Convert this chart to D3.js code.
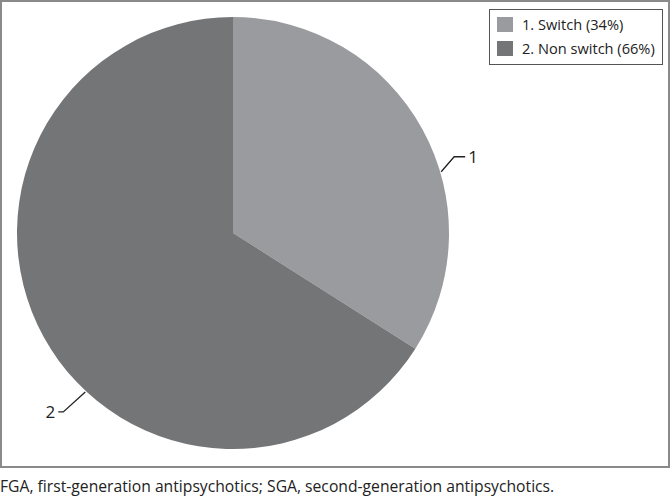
<!DOCTYPE html>
<html><head><meta charset="utf-8">
<script src="https://cdn.jsdelivr.net/npm/d3@7"></script>
<style>body{margin:0;background:#fff}svg{display:block}text{font-family:"Open Sans",sans-serif}</style>
</head><body>
<script>
const categories = ["1. Switch (34%)", "2. Non switch (66%)"];
const shortLabels = ["1", "2"];
const values = [34, 66];
const colors = ["#9a9b9e", "#747577"];
const caption = "FGA, first-generation antipsychotics; SGA, second-generation antipsychotics.";

const W = 670, H = 497;
const svg = d3.select("body").append("svg").attr("width", W).attr("height", H);

// frame
svg.append("rect").attr("x", 1).attr("y", 1).attr("width", 668).attr("height", 466)
  .attr("fill", "#fff").attr("stroke", "#8a8a8a").attr("stroke-width", 2);

const cx = 233, cy = 233, R = 216;
const pie = d3.pie().sort(null).value(d => d)(values);
const arc = d3.arc().innerRadius(0).outerRadius(R);
const g = svg.append("g").attr("transform", `translate(${cx},${cy})`);
g.selectAll("path").data(pie).enter().append("path")
  .attr("d", arc).attr("fill", (d, i) => colors[i]);

// leader lines (label anchor angle offset from slice centre)
const offsets = [12.4, -18.3];
pie.forEach((d, i) => {
  const mid = (d.startAngle + d.endAngle) / 2 + offsets[i] * Math.PI / 180;
  const p0 = [Math.sin(mid) * (R + 1), -Math.cos(mid) * (R + 1)];
  const right = Math.sin(mid) > 0;
  const p1 = [p0[0] + (right ? 13 : -22), p0[1] + (right ? -15 : 20)];
  const p2 = [p1[0] + (right ? 11 : -5), p1[1]];
  g.append("polyline").attr("points", [p0, p1, p2].map(p => p.join(",")).join(" "))
    .attr("fill", "none").attr("stroke", "#222").attr("stroke-width", 1.3);
  g.append("text").attr("x", p2[0] + (right ? 3 : -3)).attr("y", p2[1] + 6)
    .attr("text-anchor", right ? "start" : "end").attr("font-size", 17)
    .attr("fill", "#222").text(shortLabels[i]);
});

// legend
const lg = svg.append("g");
lg.append("rect").attr("x", 489.5).attr("y", 9.5).attr("width", 173).attr("height", 55)
  .attr("fill", "#fff").attr("stroke", "#555").attr("stroke-width", 1);
categories.forEach((c, i) => {
  lg.append("rect").attr("x", 497).attr("y", 17 + i * 24).attr("width", 16).attr("height", 15)
    .attr("fill", colors[i]);
  lg.append("text").attr("x", 522).attr("y", 30 + i * 24).attr("font-size", 14.6)
    .attr("fill", "#222").text(c);
});

svg.append("text").attr("x", 0).attr("y", 492).attr("font-size", 15.7).attr("fill", "#222").text(caption);
</script>
</body></html>
